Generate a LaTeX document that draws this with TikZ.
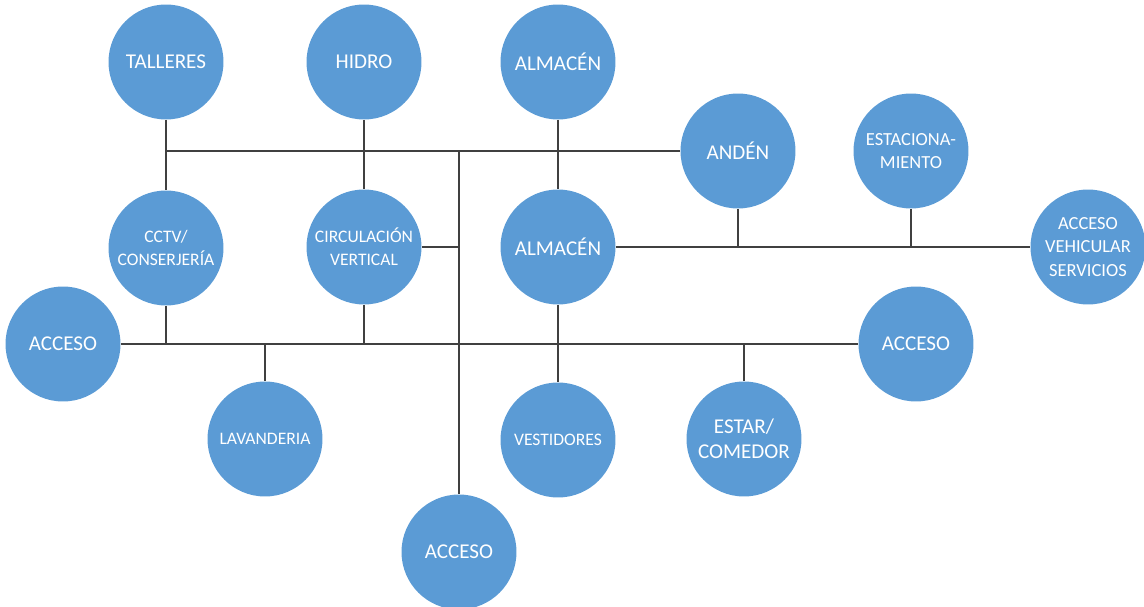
\documentclass[tikz,border=0pt]{standalone}
\usepackage{fontspec}
\setmainfont{Carlito}
\usetikzlibrary{positioning}

\definecolor{espacio}{RGB}{91,155,213}
\definecolor{enlace}{RGB}{64,64,64}

\begin{document}
\begin{tikzpicture}[
  x=0.02cm, y=-0.02cm,
  espacio/.style={circle, fill=espacio, text=white, align=center, inner sep=0pt,
    minimum size=2.3cm, font=\fontsize{12}{14}\selectfont},
  chico/.style={font=\fontsize{10}{13}\selectfont},
  medio/.style={font=\fontsize{10.5}{13.5}\selectfont},
  enlace/.style={draw=enlace, line width=1.3pt}
]
\useasboundingbox (0,0) rectangle (1144,607);

% fila superior
\node[espacio] (talleres) at (166,62) {TALLERES};
\node[espacio] (hidro) at (364,62) {HIDRO};
\node[espacio] (almacenA) at (558,62) {ALMACÉN};
\node[espacio] (anden) at (738,151) {ANDÉN};
\node[espacio, medio] (estac) at (911,151) {ESTACIONA-\\MIENTO};

% fila central
\node[espacio, chico] (cctv) at (166,248) {CCTV/\\CONSERJERÍA};
\node[espacio, chico] (circ) at (364,247) {CIRCULACIÓN\\VERTICAL};
\node[espacio] (almacenB) at (558,247) {ALMACÉN};
\node[espacio, medio] (accVeh) at (1088,247) {ACCESO\\VEHICULAR\\SERVICIOS};

% fila inferior
\node[espacio] (accIzq) at (63,344) {ACCESO};
\node[espacio] (accDer) at (916,344) {ACCESO};
\node[espacio, chico] (lavand) at (265,439) {LAVANDERIA};
\node[espacio, chico] (vestid) at (558,440) {VESTIDORES};
\node[espacio] (estar) at (744,439) {ESTAR/\\COMEDOR};
\node[espacio] (accInf) at (459,552) {ACCESO};

\coordinate (tronco) at (459,151);

% enlaces
\draw[enlace] (anden.west) -- (anden.west -| talleres);
\draw[enlace] (talleres.south) -- (cctv.north);
\draw[enlace] (hidro.south) -- (circ.north);
\draw[enlace] (almacenA.south) -- (almacenB.north);
\draw[enlace] (tronco) -- (accInf.north);
\draw[enlace] (circ.east) -- (circ.east -| accInf);

\draw[enlace] (accIzq.east) -- (accDer.west);
\draw[enlace] (cctv.south) -- (cctv |- accIzq);
\draw[enlace] (circ.south) -- (circ |- accIzq);
\draw[enlace] (lavand.north) -- (lavand |- accIzq);
\draw[enlace] (estar.north) -- (estar |- accIzq);
\draw[enlace] (almacenB.south) -- (vestid.north);

\draw[enlace] (almacenB.east) -- (accVeh.west);
\draw[enlace] (anden.south) -- (anden |- almacenB);
\draw[enlace] (estac.south) -- (estac |- almacenB);
\end{tikzpicture}
\end{document}
